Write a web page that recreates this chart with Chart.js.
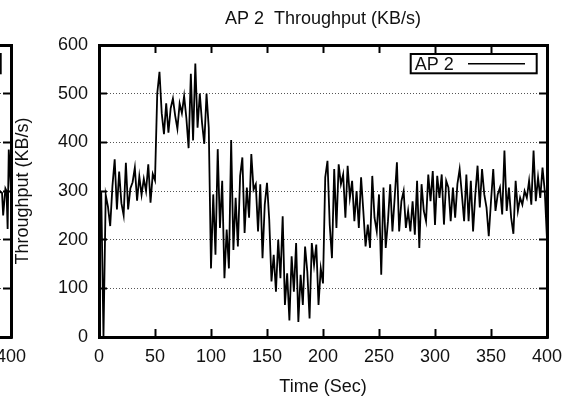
<!DOCTYPE html>
<html><head><meta charset="utf-8">
<script src="https://cdn.jsdelivr.net/npm/chart.js@4.4.1/dist/chart.umd.min.js"></script>
<style>
html,body{margin:0;padding:0;background:#fff;overflow:hidden;width:574px;height:398px;}
#wrap{position:relative;width:574px;height:398px;overflow:hidden;background:#fff;}
canvas{position:absolute;top:0;}
#c1{left:-536px;}
#c2{left:0;}
</style></head><body>
<div id="wrap"><canvas id="c1" width="574" height="398"></canvas><canvas id="c2" width="574" height="398"></canvas></div>
<script>
// ---- data ----
const xTickLabels = ['0','50','100','150','200','250','300','350','400'];
const yTickLabels = ['0','100','200','300','400','500','600'];

const ap2Times = [
  0,2,4,6,8,10,12,14,16,18,20,22,24,26,28,30,32,34,36,38,40,42,44,46,48,50,
  52,54,56,58,60,62,64,66,68,70,72,74,76,78,80,82,84,86,88,90,92,94,96,98,100,
  102,104,106,108,110,112,114,116,118,120,122,124,126,128,130,132,134,136,138,140,
  142,144,146,148,150,152,154,156,158,160,162,164,166,168,170,172,174,176,178,180,
  182,184,186,188,190,192,194,196,198,200,
  202,204,206,208,210,212,214,216,218,220,222,224,226,228,230,232,234,236,238,240,
  242,244,246,248,250,252,254,256,258,260,262,264,266,268,270,272,274,276,278,280,
  282,284,286,288,290,292,294,296,298,300,
  302,304,306,308,310,312,314,316,318,320,322,324,326,328,330,332,334,336,338,340,
  342,344,346,348,350,352,354,356,358,360,362,364,366,368,370,372,374,376,378,380,
  382,384,386,388,390,392,394,396,398,400
];
const ap2Values = [
  300,296,0,292,268,228,310,365,262,340,275,250,358,262,305,318,348,280,330,292,325,300,355,276,335,322,
  500,545,460,417,480,420,470,490,455,428,480,460,495,450,388,541,404,562,430,500,440,397,500,430,141,
  293,169,386,224,321,121,221,141,405,179,286,186,331,369,214,307,245,376,303,314,
  217,314,162,272,317,241,114,169,93,200,121,248,66,131,34,166,93,193,31,128,
  66,186,134,38,193,148,190,66,141,110,
  328,362,231,162,345,224,355,314,334,245,352,286,321,238,300,224,328,259,186,231,
  183,331,245,217,293,128,307,183,238,314,217,286,359,217,279,300,224,259,217,279,
  210,321,183,314,259,238,334,279,341,230,
  331,286,334,231,321,307,238,307,245,314,345,293,238,334,238,321,217,293,352,266,
  345,293,266,207,279,345,259,293,307,252,383,259,307,245,212,321,259,286,272,300,
  286,321,272,383,279,328,286,348,300,200
];

// tail of the neighbouring AP 1 panel (only its right edge is visible)
const ap1Times  = [384,386,388,390,392,393,395,396,397,398,400];
const ap1Values = [290,320,280,300,296,250,305,300,222,385,300];

const FONT = "'Liberation Sans', Arial, Helvetica, sans-serif";
const TXT = '#111';

const gpLegend = {
  id: 'gpLegend',
  afterDatasetsDraw(chart) {
    const ds = chart.data.datasets[0];
    const a = chart.chartArea;
    const ctx = chart.ctx;
    const w = 126, h = 19.3;
    const x = a.right - 10.3 - w, y = a.top + 9;
    ctx.save();
    ctx.fillStyle = '#fff';
    ctx.fillRect(x, y, w, h);
    ctx.lineWidth = 2;
    ctx.strokeStyle = '#000';
    ctx.strokeRect(x, y, w, h);
    ctx.font = '18px ' + FONT;
    ctx.fillStyle = TXT;
    ctx.textBaseline = 'middle';
    ctx.textAlign = 'left';
    ctx.fillText(ds.label, x + 4, y + h / 2 + 1);
    ctx.beginPath();
    ctx.moveTo(x + 57.3, y + h / 2);
    ctx.lineTo(x + 114.3, y + h / 2);
    ctx.lineWidth = 1.5;
    ctx.strokeStyle = ds.borderColor;
    ctx.stroke();
    ctx.restore();
  }
};

function noPad(s) { s.paddingLeft = 0; s.paddingRight = 0; s.paddingTop = 0; s.paddingBottom = 0; }

function makeConfig(titleText, label, times, values) {
  const font = {family: FONT, size: 18, weight: 'normal'};
  return {
    type: 'line',
    data: {
      labels: times,
      datasets: [{
        label: label,
        data: values,
        borderColor: '#000',
        borderWidth: 1.8,
        pointRadius: 0,
        tension: 0,
        fill: false,
        xAxisID: 'x',
        yAxisID: 'y'
      }]
    },
    options: {
      responsive: false,
      animation: false,
      devicePixelRatio: 1,
      layout: {padding: 0},
      plugins: {
        legend: {display: false},
        tooltip: {enabled: false},
        title: {
          display: true, text: titleText, fullSize: false,
          color: TXT, font: font, padding: {top: 8, bottom: 15.4}
        }
      },
      scales: {
        x: {
          type: 'linear', position: 'bottom', min: 0, max: 400,
          ticks: {stepSize: 50, autoSkip: false, maxRotation: 0, padding: 17, color: TXT, font: font,
                  callback: (v, i) => xTickLabels[i]},
          grid: {drawOnChartArea: false, color: 'rgba(0,0,0,0)', tickColor: '#000', tickWidth: 2, tickLength: -8, tickBorderDash: []},
          border: {color: '#000', width: 3},
          title: {display: true, text: 'Time (Sec)', color: TXT, font: font, padding: {top: 0, bottom: 0}},
          afterFit(s) { s.height = 61; noPad(s); }
        },
        x2: {
          type: 'linear', position: 'top', min: 0, max: 400,
          ticks: {stepSize: 50, display: false},
          grid: {drawOnChartArea: false, color: 'rgba(0,0,0,0)', tickColor: '#000', tickWidth: 2, tickLength: -8, tickBorderDash: []},
          border: {color: '#000', width: 3},
          afterFit(s) { s.height = 0; noPad(s); }
        },
        y: {
          type: 'linear', position: 'left', min: 0, max: 600,
          ticks: {stepSize: 100, padding: 19, color: TXT, font: font,
                  callback: (v, i) => yTickLabels[i]},
          grid: {color: '#555', lineWidth: 1, tickColor: '#000', tickWidth: 2, tickLength: -8, tickBorderDash: []},
          border: {color: '#000', width: 3, dash: [1, 2]},
          title: {display: true, text: 'Throughput (KB/s)', color: TXT, font: font, padding: {top: 12.2, bottom: 0}},
          afterFit(s) { s.width = 99; noPad(s); }
        },
        y2: {
          type: 'linear', position: 'right', min: 0, max: 600,
          ticks: {stepSize: 100, display: false},
          grid: {drawOnChartArea: false, color: 'rgba(0,0,0,0)', tickColor: '#000', tickWidth: 2, tickLength: -8, tickBorderDash: []},
          border: {color: '#000', width: 3},
          afterFit(s) { s.width = 27; noPad(s); }
        }
      }
    },
    plugins: [gpLegend]
  };
}

new Chart(document.getElementById('c1'), makeConfig('AP 1  Throughput (KB/s)', 'AP 1', ap1Times, ap1Values));
new Chart(document.getElementById('c2'), makeConfig('AP 2  Throughput (KB/s)', 'AP 2', ap2Times, ap2Values));
</script>
</body></html>
